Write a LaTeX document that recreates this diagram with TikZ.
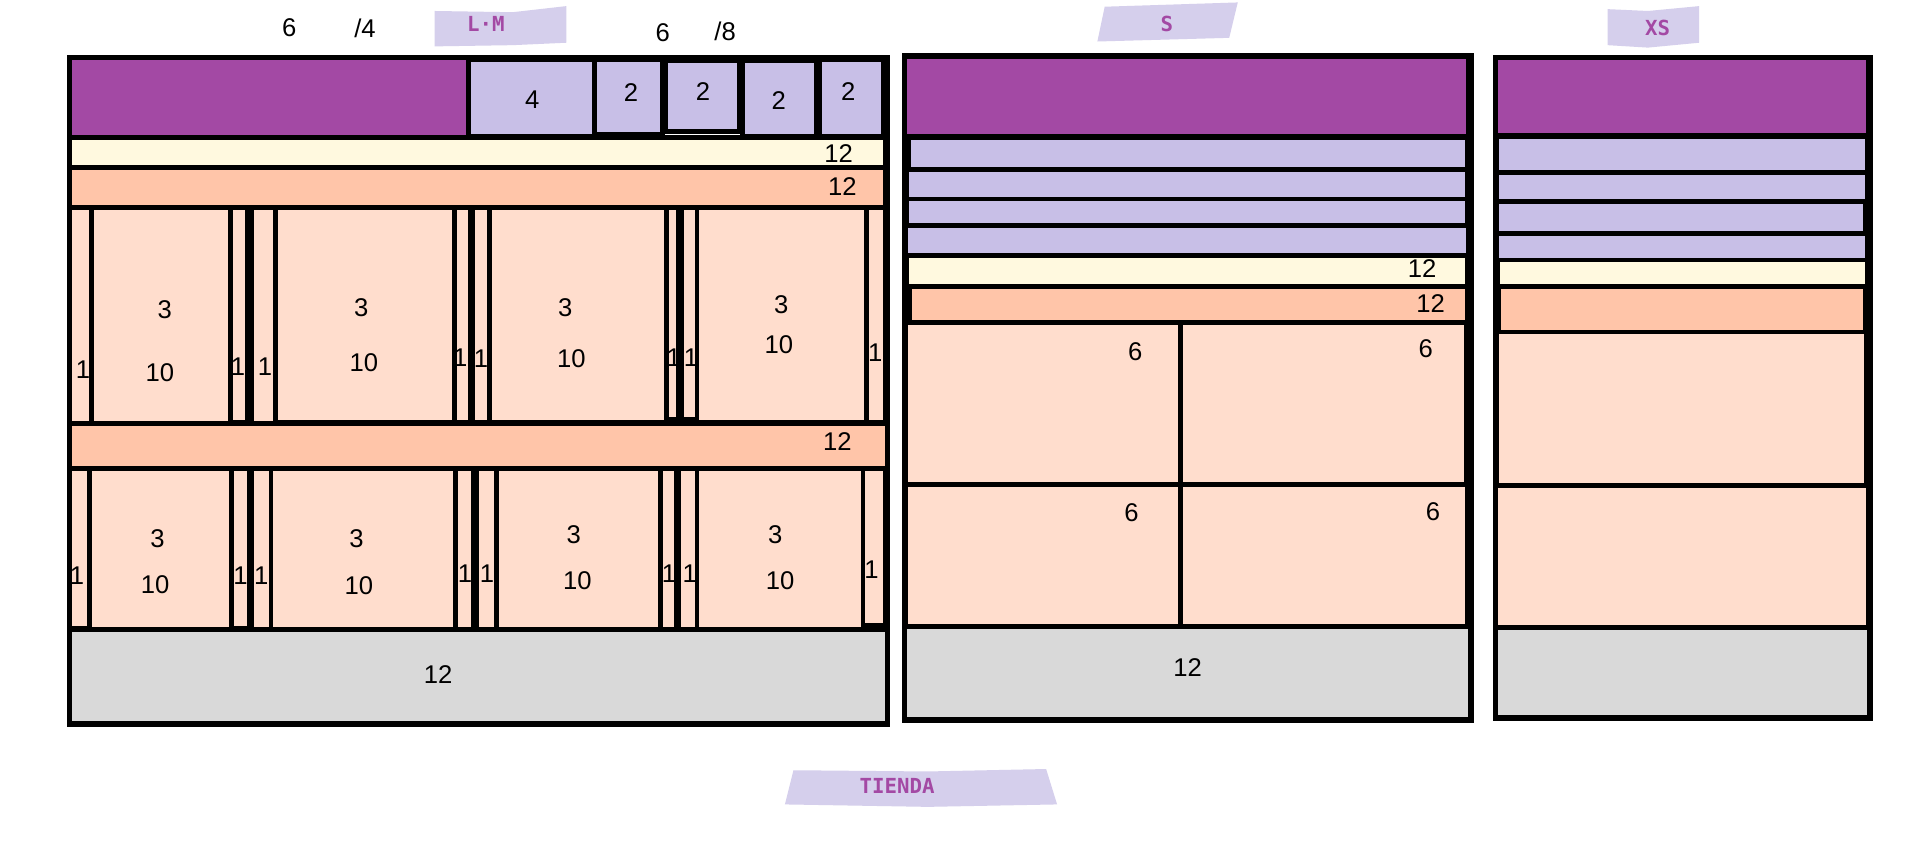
\documentclass[tikz,border=0pt]{standalone}
\usepackage{fontspec}
\setmainfont{Liberation Sans}
\newfontfamily\tagfont{DejaVu Sans Mono}
\usetikzlibrary{fit}
\definecolor{pur}{HTML}{A349A4}
\definecolor{lav}{HTML}{C8BFE7}
\definecolor{crm}{HTML}{FFF9DF}
\definecolor{pch}{HTML}{FFC5A9}
\definecolor{lpch}{HTML}{FFDDCD}
\definecolor{gry}{HTML}{D9D9D9}
\definecolor{tagc}{HTML}{D5CFEC}
\tikzset{
  cellbase/.style={draw=black, line width=4pt, inner sep=0pt, outer sep=0pt, rectangle},
  pu/.style={cellbase, fill=pur},
  lv/.style={cellbase, fill=lav},
  cr/.style={cellbase, fill=crm},
  pe/.style={cellbase, fill=pch},
  lp/.style={cellbase, fill=lpch},
  gy/.style={cellbase, fill=gry},
  frame/.style={draw=black, line width=4.5pt, inner sep=0pt, outer sep=0pt, rectangle},
  num/.style={font=\fontsize{21}{24}\selectfont, inner sep=0pt, text=black},
  tagtxt/.style={font=\tagfont\bfseries\fontsize{17}{19}\selectfont, text=pur, inner sep=0pt},
  tagbg/.style={fill=tagc, draw=none}
}
\newcommand{\bx}[6]{\node[#6, fit={(#2,#3) (#4,#5)}] (#1) {};}
\newcommand{\lb}[4]{\node[num] (#1) at (#2,#3) {#4};}
\begin{document}
\begin{tikzpicture}[x=1pt, y=-1pt]
\useasboundingbox (0,0) rectangle (1568,709);
\fill[white] (0,0) rectangle (1568,709);

% ---------- tags ----------
\fill[tagbg] (356,9) -- (420,10) -- (464,5) -- (464,35) -- (420,37) -- (356,38) -- cycle;
\node[tagtxt] (tag-lm) at (398,20) {L·M};
\fill[tagbg] (905,5.5) -- (1014,2) -- (1007,31) -- (899,34) -- cycle;
\node[tagtxt] (tag-s) at (956,20) {S};
\fill[tagbg] (1317,7.5) -- (1350,9) -- (1392,5) -- (1392,35) -- (1350,39) -- (1317,37) -- cycle;
\node[tagtxt] (tag-xs) at (1358,23) {XS};
\fill[tagbg] (650,631) -- (760,632) -- (857,630) -- (866,659) -- (760,661) -- (643,659) -- cycle;
\node[tagtxt] (tag-t) at (735,644) {TIENDA};

% top labels
\lb{t6a}{237}{23}{6}
\lb{t4}{299}{23}{/4}
\lb{t6b}{543}{27}{6}
\lb{t8}{594}{26}{/8}

% ---------- panel L·M ----------
\bx{a-pur}{57}{47}{384}{113}{pu}
\bx{a-c4}{384}{49}{487}{112}{lv}
\bx{a-c2a}{487}{49}{543}{110}{lv}
\bx{a-c2b}{545}{50}{606}{108}{lv}
\bx{a-c2c}{608}{50}{669}{112}{lv}
\bx{a-c2d}{671}{49}{724}{112}{lv}
\bx{a-cream}{57}{113}{725}{137}{cr}
\bx{a-band1}{57}{137}{725}{170}{pe}
\bx{a-r1c1}{57}{170}{75}{347}{lp}
\bx{a-r1c2}{75}{170}{189}{347}{lp}
\bx{a-r1c3}{189}{170}{203}{346}{lp}
\bx{a-r1c4}{206}{170}{226}{347}{lp}
\bx{a-r1c5}{226}{170}{372}{346}{lp}
\bx{a-r1c6}{372}{170}{385}{346}{lp}
\bx{a-r1c7}{387}{170}{401}{346}{lp}
\bx{a-r1c8}{401}{170}{546}{346}{lp}
\bx{a-r1c9}{546}{170}{556}{344}{lp}
\bx{a-r1c10}{558}{170}{571}{344}{lp}
\bx{a-r1c11}{571}{170}{710}{346}{lp}
\bx{a-r1c12}{710}{170}{725}{346}{lp}
\bx{a-band2}{57}{347}{727}{384}{pe}
\bx{a-r2c1}{57}{384}{73}{515}{lp}
\bx{a-r2c2}{73}{384}{190}{516}{lp}
\bx{a-r2c3}{190}{384}{204}{515}{lp}
\bx{a-r2c4}{206}{384}{222}{516}{lp}
\bx{a-r2c5}{222}{384}{373}{516}{lp}
\bx{a-r2c6}{373}{384}{388}{516}{lp}
\bx{a-r2c7}{390}{384}{407}{516}{lp}
\bx{a-r2c8}{407}{384}{541}{516}{lp}
\bx{a-r2c9}{541}{384}{554}{516}{lp}
\bx{a-r2c10}{556}{384}{571}{516}{lp}
\bx{a-r2c11}{571}{384}{707}{516}{lp}
\bx{a-r2c12}{707}{384}{725}{512}{lp}
\bx{a-foot}{57}{516}{727}{593}{gy}
\bx{a-frame}{57}{47}{727}{593}{frame}

\lb{a-l4}{436}{82}{4}
\lb{a-l2a}{517}{76}{2}
\lb{a-l2b}{576}{75}{2}
\lb{a-l2c}{638}{82}{2}
\lb{a-l2d}{695}{75}{2}
\lb{a-l12a}{687}{126}{12}
\lb{a-l12b}{690}{153}{12}
\lb{a-l12c}{686}{362}{12}
\lb{a-l12d}{359}{553}{12}
% row 1 labels
\lb{a-r1l1}{68}{303}{1}
\lb{a-r1l2a}{135}{254}{3}
\lb{a-r1l2b}{131}{305}{10}
\lb{a-r1l3}{195}{300}{1}
\lb{a-r1l4}{217}{300}{1}
\lb{a-r1l5a}{296}{252}{3}
\lb{a-r1l5b}{298}{297}{10}
\lb{a-r1l6}{377}{293}{1}
\lb{a-r1l7}{394}{294}{1}
\lb{a-r1l8a}{463}{252}{3}
\lb{a-r1l8b}{468}{294}{10}
\lb{a-r1l9}{552}{293}{1}
\lb{a-r1l10}{566}{293}{1}
\lb{a-r1l11a}{640}{250}{3}
\lb{a-r1l11b}{638}{282}{10}
\lb{a-r1l12}{717}{289}{1}
% row 2 labels
\lb{a-r2l1}{63}{472}{1}
\lb{a-r2l2a}{129}{441}{3}
\lb{a-r2l2b}{127}{479}{10}
\lb{a-r2l3}{197}{472}{1}
\lb{a-r2l4}{214}{472}{1}
\lb{a-r2l5a}{292}{441}{3}
\lb{a-r2l5b}{294}{480}{10}
\lb{a-r2l6}{381}{470}{1}
\lb{a-r2l7}{399}{470}{1}
\lb{a-r2l8a}{470}{438}{3}
\lb{a-r2l8b}{473}{476}{10}
\lb{a-r2l9}{548}{470}{1}
\lb{a-r2l10}{565}{470}{1}
\lb{a-r2l11a}{635}{438}{3}
\lb{a-r2l11b}{639}{476}{10}
\lb{a-r2l12}{714}{467}{1}

% ---------- panel S ----------
\bx{b-pur}{741}{46}{1203}{112}{pu}
\bx{b-lv1}{744}{113}{1202}{139}{lv}
\bx{b-lv2}{743}{139}{1202}{163}{lv}
\bx{b-lv3}{743}{163}{1202}{185}{lv}
\bx{b-lv4}{742}{185}{1203}{209}{lv}
\bx{b-cream}{743}{209}{1202}{235}{cr}
\bx{b-band}{745}{235}{1202}{264}{pe}
\bx{b-c1}{742}{264}{967}{397}{lp}
\bx{b-c2}{967}{264}{1201}{397}{lp}
\bx{b-c3}{742}{397}{967}{513}{lp}
\bx{b-c4}{967}{397}{1202}{513}{lp}
\bx{b-foot}{741}{513}{1205}{590}{gy}
\bx{b-frame}{741}{46}{1205}{590}{frame}
\lb{b-l12a}{1165}{220}{12}
\lb{b-l12b}{1172}{249}{12}
\lb{b-l6a}{930}{288}{6}
\lb{b-l6b}{1168}{286}{6}
\lb{b-l6c}{927}{420}{6}
\lb{b-l6d}{1174}{419}{6}
\lb{b-l12c}{973}{547}{12}

% ---------- panel XS ----------
\bx{c-pur}{1225}{47}{1531}{111}{pu}
\bx{c-lv1}{1226}{112}{1530}{141}{lv}
\bx{c-lv2}{1226}{141}{1530}{165}{lv}
\bx{c-lv3}{1226}{165}{1528}{191}{lv}
\bx{c-lv4}{1226}{191}{1530}{213}{lv}
\bx{c-cream}{1227}{213}{1530}{235}{cr}
\bx{c-band}{1228}{235}{1528}{272}{pe}
\bx{c-c1}{1226}{272}{1529}{398}{lp}
\bx{c-c2}{1225}{398}{1531}{514}{lp}
\bx{c-foot}{1225}{514}{1532}{588}{gy}
\bx{c-frame}{1225}{47}{1532}{588}{frame}
\end{tikzpicture}
\end{document}
